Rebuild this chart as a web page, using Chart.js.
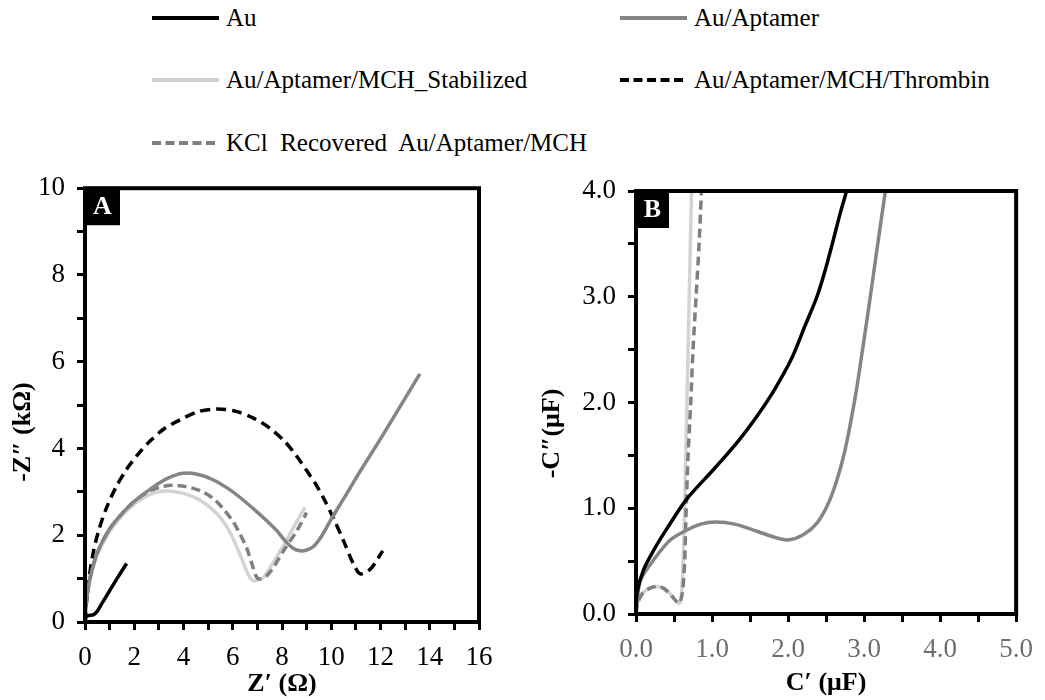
<!DOCTYPE html>
<html>
<head>
<meta charset="utf-8">
<script src="https://cdn.jsdelivr.net/npm/chart.js@4.4.0/dist/chart.umd.min.js"></script>
<style>
  body { margin: 0; background: #fff; }
  #page { position: relative; width: 1045px; height: 700px; font-family: 'Liberation Serif', 'Times New Roman', serif; }
  #legendLines { position: absolute; left: 0; top: 0; }
  .key { position: absolute; font-size: 25px; line-height: 30px; white-space: pre; color: #000; }
  .panel { position: absolute; top: 160px; height: 540px; }
</style>
</head>
<body>
<div id="page">
  <svg id="legendLines" width="1045" height="170"></svg>
  <div id="legend"></div>
  <div class="panel" style="left:0;width:520px"><canvas id="nyquist"></canvas></div>
  <div class="panel" style="left:520px;width:525px"><canvas id="capacitance"></canvas></div>
</div>
<script>
var seriesNames = ['Au', 'Au/Aptamer', 'Au/Aptamer/MCH_Stabilized', 'Au/Aptamer/MCH/Thrombin', 'KCl  Recovered  Au/Aptamer/MCH'];

// Nyquist plot, [Z', -Z''] per electrode
var nyqAu = [[0,0],[0.05,0.12],[0.15,0.15],[0.35,0.17],[0.5,0.25],[0.7,0.44],[1.0,0.72],[1.3,1.0],[1.69,1.35]];
var nyqAptamer = [[0,0],[0.05,0.45],[0.2,1.0],[0.5,1.6],[1.0,2.15],[1.5,2.5],[2.0,2.78],[2.5,3.0],[3.0,3.2],[3.5,3.35],[4.0,3.43],[4.6,3.4],[5.2,3.28],[5.8,3.08],[6.3,2.87],[6.9,2.58],[7.39,2.33],[7.8,2.1],[8.13,1.87],[8.45,1.7],[8.74,1.64],[9.0,1.66],[9.28,1.74],[9.6,1.97],[10.0,2.37],[10.6,2.93],[11.18,3.48],[12.0,4.22],[12.8,4.97],[13.6,5.72]];
var nyqStabilized = [[0,0],[0.05,0.42],[0.2,0.95],[0.5,1.55],[1.0,2.08],[1.5,2.45],[2.0,2.72],[2.6,2.93],[3.2,3.02],[3.7,3.0],[4.2,2.93],[4.6,2.83],[4.95,2.7],[5.4,2.47],[5.76,2.2],[6.05,1.88],[6.3,1.55],[6.57,1.17],[6.75,0.98],[6.9,0.95],[7.25,1.03],[7.6,1.33],[7.93,1.64],[8.47,2.18],[8.94,2.65]];
var nyqThrombin = [[0,0],[0.1,0.7],[0.3,1.5],[0.55,2.1],[0.88,2.64],[1.25,3.1],[1.69,3.52],[2.2,3.9],[2.64,4.17],[3.2,4.45],[3.86,4.66],[4.6,4.85],[5.35,4.91],[6.1,4.86],[6.84,4.7],[7.5,4.47],[8.1,4.17],[8.6,3.82],[9.05,3.45],[9.4,3.15],[9.72,2.82],[10.1,2.38],[10.5,1.87],[10.9,1.34],[11.18,1.11],[11.59,1.22],[12.09,1.64]];
var nyqKcl = [[0,0],[0.05,0.45],[0.2,1.0],[0.5,1.6],[1.0,2.15],[1.5,2.5],[2.0,2.78],[2.5,2.98],[3.0,3.1],[3.52,3.15],[4.1,3.12],[4.7,3.02],[5.2,2.85],[5.6,2.62],[6.03,2.3],[6.3,2.02],[6.57,1.7],[6.8,1.3],[6.95,1.05],[7.1,0.99],[7.39,1.07],[7.7,1.3],[8.06,1.64],[8.6,2.1],[9.0,2.52]];

// complex capacitance, [C', -C''] per electrode (Thrombin not plotted here)
var capAu = [[0,0],[0.013,0.2],[0.1,0.42],[0.23,0.6],[0.4,0.8],[0.66,1.08],[1.05,1.39],[1.35,1.64],[1.6,1.88],[1.82,2.12],[2.05,2.42],[2.22,2.72],[2.38,3.0],[2.5,3.28],[2.6,3.55],[2.69,3.8],[2.77,4.0]];
var capAptamer = [[0,0],[0.02,0.15],[0.06,0.32],[0.23,0.51],[0.45,0.7],[0.66,0.79],[0.85,0.85],[1.05,0.87],[1.3,0.85],[1.6,0.78],[1.85,0.72],[2.0,0.7],[2.2,0.75],[2.38,0.86],[2.52,1.03],[2.64,1.26],[2.74,1.52],[2.82,1.8],[2.9,2.12],[2.98,2.5],[3.07,2.94],[3.17,3.45],[3.28,4.0]];
var capStabilized = [[0,0],[0.02,0.1],[0.08,0.19],[0.17,0.24],[0.27,0.26],[0.37,0.24],[0.46,0.18],[0.53,0.12],[0.57,0.1],[0.6,0.2],[0.62,0.5],[0.64,1.0],[0.655,1.5],[0.67,2.0],[0.685,2.5],[0.7,3.0],[0.715,3.5],[0.73,4.0]];
var capKcl = [[0,0],[0.02,0.1],[0.08,0.19],[0.17,0.24],[0.27,0.26],[0.37,0.24],[0.46,0.18],[0.53,0.12],[0.57,0.1],[0.61,0.2],[0.64,0.5],[0.66,1.0],[0.685,1.5],[0.72,2.0],[0.75,2.5],[0.79,3.0],[0.83,3.5],[0.86,4.0]];

// labelled ticks (the rest are minor tick marks)
var zRealTicks = [0, 2, 4, 6, 8, 10, 12, 14, 16];
var zImagTicks = [0, 2, 4, 6, 8, 10];
var cRealTicks = [0, 1, 2, 3, 4, 5];
var cImagTicks = [0, 1, 2, 3, 4];

var lineColors = ['#000000', '#858585', '#d3d3d3', '#000000', '#7f7f7f'];
var lineDash = [[], [], [], [10, 6], [9, 5]];
var drawOrder = [0, 1, 4, 2, 3];

// legend: html text with svg line samples
var keyPos = [[152, 18], [620, 18], [152, 80], [620, 80], [152, 143]];
var svg = document.getElementById('legendLines');
var legend = document.getElementById('legend');
seriesNames.forEach(function(name, i) {
  var x = keyPos[i][0], y = keyPos[i][1];
  var ln = document.createElementNS('http://www.w3.org/2000/svg', 'line');
  ln.setAttribute('x1', x); ln.setAttribute('x2', x + 67);
  ln.setAttribute('y1', y); ln.setAttribute('y2', y);
  ln.setAttribute('stroke', lineColors[i]);
  ln.setAttribute('stroke-width', 4);
  if (lineDash[i].length) ln.setAttribute('stroke-dasharray', '9,4.5');
  svg.appendChild(ln);
  var d = document.createElement('div');
  d.className = 'key';
  d.style.left = (x + 74) + 'px';
  d.style.top = (y - 15) + 'px';
  d.textContent = name;
  legend.appendChild(d);
});

function toPoints(arr) {
  return arr.map(function(p) { return {x: p[0], y: p[1]}; });
}

function makeDataset(i, arr) {
  return {
    label: seriesNames[i],
    data: toPoints(arr),
    showLine: true,
    borderColor: lineColors[i],
    borderDash: lineDash[i],
    borderWidth: 3.5,
    pointRadius: 0,
    pointHoverRadius: 0,
    tension: 0.3,
    fill: false,
    order: drawOrder[i]
  };
}

// box frame, panel letter and axis titles
var panelDecor = {
  id: 'panelDecor',
  afterDraw: function(chart, args, opts) {
    var ctx = chart.ctx, a = chart.chartArea;
    ctx.save();
    ctx.strokeStyle = '#000';
    ctx.lineWidth = 4;
    ctx.strokeRect(a.left, a.top, a.right - a.left, a.bottom - a.top);

    ctx.fillStyle = '#000';
    ctx.fillRect(a.left, a.top, opts.boxW, 37);
    ctx.fillStyle = '#fff';
    ctx.font = 'bold 26px "Liberation Serif"';
    ctx.textAlign = 'center';
    ctx.textBaseline = 'middle';
    ctx.fillText(opts.letter, a.left + opts.boxW / 2, a.top + 19);

    ctx.fillStyle = '#000';
    ctx.textBaseline = 'alphabetic';
    ctx.fillText(opts.xTitle, (a.left + a.right) / 2, opts.xTitleY);

    ctx.translate(opts.yTitleX, (a.top + a.bottom) / 2 + opts.yTitleShift);
    ctx.rotate(-Math.PI / 2);
    ctx.textBaseline = 'middle';
    ctx.fillText(opts.yTitle, 0, 0);
    ctx.restore();
  }
};

function axis(min, max, step, labelled, fmt, color, fit) {
  return {
    type: 'linear',
    min: min,
    max: max,
    afterFit: fit,
    border: { display: false },
    grid: { display: true, drawOnChartArea: false, drawTicks: true, tickLength: 8, tickWidth: 3, tickColor: '#000' },
    ticks: {
      stepSize: step,
      autoSkip: false,
      maxRotation: 0,
      padding: 12,
      color: color,
      font: { family: 'Liberation Serif', size: 27 },
      callback: function(v) { return labelled.indexOf(v) >= 0 ? fmt(v) : ''; }
    }
  };
}

var intFmt = function(v) { return String(v); };
var oneDp = function(v) { return v.toFixed(1); };

new Chart(document.getElementById('nyquist'), {
  type: 'scatter',
  data: {
    datasets: [
      makeDataset(0, nyqAu),
      makeDataset(1, nyqAptamer),
      makeDataset(2, nyqStabilized),
      makeDataset(3, nyqThrombin),
      makeDataset(4, nyqKcl)
    ]
  },
  options: {
    responsive: true,
    maintainAspectRatio: false,
    animation: false,
    layout: { padding: { left: 0, right: 41, top: 26, bottom: 0 } },
    scales: {
      x: axis(0, 16, 1, zRealTicks, intFmt, '#000', function(s) { s.height = 78; }),
      y: axis(0, 10, 1, zImagTicks, intFmt, '#000', function(s) { s.width = 85; })
    },
    plugins: {
      legend: { display: false },
      tooltip: { enabled: false },
      panelDecor: { letter: 'A', boxW: 35, xTitle: 'Z\u2032 (\u03A9)', xTitleY: 531, yTitle: '-Z\u2033 (k\u03A9)', yTitleX: 23, yTitleShift: 27 }
    }
  },
  plugins: [panelDecor]
});

new Chart(document.getElementById('capacitance'), {
  type: 'scatter',
  data: {
    datasets: [
      makeDataset(0, capAu),
      makeDataset(1, capAptamer),
      makeDataset(2, capStabilized),
      makeDataset(4, capKcl)
    ]
  },
  options: {
    responsive: true,
    maintainAspectRatio: false,
    animation: false,
    layout: { padding: { left: 0, right: 23, top: 31, bottom: 0 } },
    scales: {
      x: axis(0, 5, 0.5, cRealTicks, oneDp, '#6e6e6e', function(s) { s.height = 86; }),
      y: axis(0, 4, 0.5, cImagTicks, oneDp, '#000', function(s) { s.width = 116; })
    },
    plugins: {
      legend: { display: false },
      tooltip: { enabled: false },
      panelDecor: { letter: 'B', boxW: 33, xTitle: 'C\u2032 (\u03BCF)', xTitleY: 530, yTitle: '-C\u2033(\u03BCF)', yTitleX: 32, yTitleShift: 31 }
    }
  },
  plugins: [panelDecor]
});
</script>
</body>
</html>
